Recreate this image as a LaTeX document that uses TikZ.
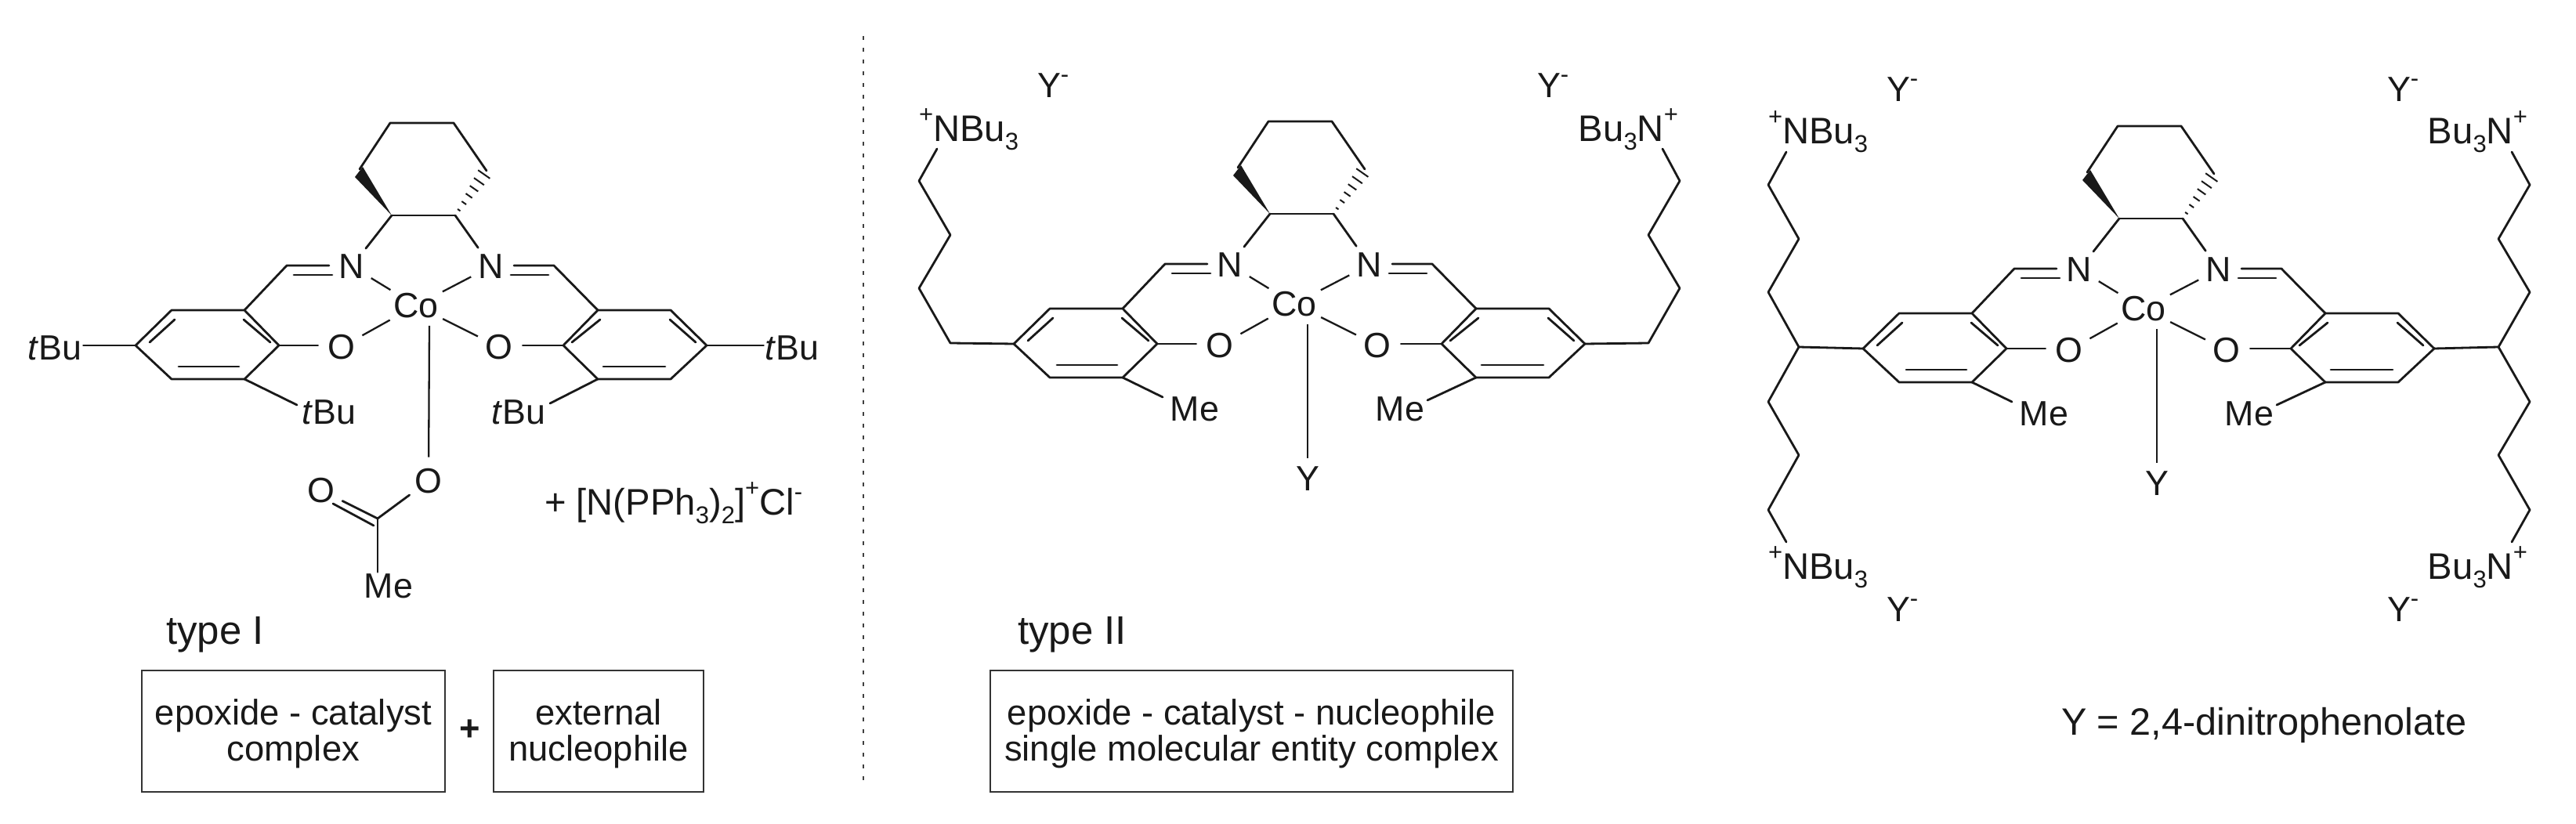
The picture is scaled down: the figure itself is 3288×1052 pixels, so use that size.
\documentclass[tikz,border=0pt]{standalone}
\usepackage{fontspec}
\setmainfont{Liberation Sans}
\usetikzlibrary{calc}
\newcommand\atomfont{\fontsize{22.4}{26}\selectfont}
\newcommand\chargefont{\fontsize{23.6}{26}\selectfont}
\newcommand\boxfont{\fontsize{22.7}{26}\selectfont}
\newcommand\typefont{\fontsize{25.5}{30}\selectfont}
\newcommand\supp[1]{\raisebox{12pt}{\fontsize{15.5}{15.5}\selectfont #1}}
\newcommand\supm{\raisebox{9.5pt}{\fontsize{15.5}{15.5}\selectfont -}}
\newcommand\subb[1]{\raisebox{-5.5pt}{\fontsize{15.5}{15.5}\selectfont #1}}
\tikzset{
  x=0.5pt,y=-0.5pt,
  bond/.style={line width=1.4pt,line cap=round,line join=round,draw=black!90},
  thinbond/.style={line width=1.15pt,draw=black!90},
  atom/.style={circle,inner sep=2.4pt,outer sep=0pt,font=\atomfont,text=black!90},
  metal/.style={circle,inner sep=2pt,outer sep=0pt,font=\atomfont,text=black!90},
  lab/.style={inner sep=0pt,outer sep=0pt,font=\chargefont,text=black!90,anchor=base west},
  labr/.style={inner sep=0pt,outer sep=0pt,font=\chargefont,text=black!90,anchor=base east},
  ylab/.style={inner sep=0pt,outer sep=0pt,font=\atomfont,text=black!90,anchor=base west},
  sub/.style={inner sep=1pt,outer sep=0pt,font=\atomfont,text=black!90},
  tbox/.style={draw=black!80,line width=1.2pt,rectangle,outer sep=0pt,inner sep=0pt,minimum height=77.5pt,align=center,font=\boxfont,text=black!90},
  typelab/.style={inner sep=0pt,outer sep=0pt,font=\typefont,text=black!90,anchor=base west},
}
% common salen-cobalt core; #1 prefix, (#2,#3) position of Co
\newcommand\salen[3]{%
\begin{scope}[shift={(#2,#3)}]
  \node[metal] (#1Co) at (0,0) {Co};
  \node[atom] (#1Na) at (-82,-50) {N};
  \node[atom] (#1Nb) at (96,-50) {N};
  \node[atom] (#1Oa) at (-95,53) {O};
  \node[atom] (#1Ob) at (106,53) {O};
  \coordinate (#1ax) at (17,26);
  \coordinate (#1ca) at (-33,-233);
  \coordinate (#1cb) at (48,-233);
  \coordinate (#1cc) at (90,-172);
  \coordinate (#1cd) at (50,-115);
  \coordinate (#1ce) at (-31,-115);
  \coordinate (#1cf) at (-72,-174);
  \coordinate (#1ia) at (-165,-51);
  \coordinate (#1ib) at (176,-51);
  \coordinate (#1r1) at (-219,6);
  \coordinate (#1r2) at (-312,6);
  \coordinate (#1r3) at (-358,51);
  \coordinate (#1r4) at (-312,94);
  \coordinate (#1r5) at (-219,94);
  \coordinate (#1r6) at (-175,51);
  \coordinate (#1s1) at (232,6);
  \coordinate (#1s2) at (325,6);
  \coordinate (#1s3) at (371,51);
  \coordinate (#1s4) at (325,94);
  \coordinate (#1s5) at (232,94);
  \coordinate (#1s6) at (188,51);
  % cyclohexane
  \draw[bond] (#1cf) -- (#1ca) -- (#1cb) -- (#1cc);
  \draw[bond] (#1ce) -- (#1cd);
  \fill[black!90] (#1ce) -- (-68,-177) -- (-78,-164) -- cycle;
  \foreach \t in {0.12,0.28,0.44,0.60,0.76,0.92}{
    \pgfmathsetmacro\w{1+\t*9}
    \pgfmathsetmacro\px{50+40*\t}
    \pgfmathsetmacro\py{-115-57*\t}
    \draw[line width=1pt,draw=black!90] (\px-.819*\w,\py-.574*\w) -- (\px+.819*\w,\py+.574*\w);
  }
  % bonds to N and Co
  \draw[bond] (#1ce) -- (#1Na);
  \draw[bond] (#1cd) -- (#1Nb);
  \draw[thinbond] (#1Na) -- (#1Co);
  \draw[thinbond] (#1Nb) -- (#1Co);
  \draw[thinbond] (#1Oa) -- (#1Co);
  \draw[thinbond] (#1Ob) -- (#1Co);
  % imines
  \draw[bond] (#1r1) -- (#1ia) -- (#1Na.west |- #1ia);
  \draw[bond] (-156,-39) -- (-107,-39);
  \draw[bond] (#1s1) -- (#1ib) -- (#1Nb.east |- #1ib);
  \draw[bond] (121,-39) -- (169,-39);
  % left ring
  \draw[bond] (#1r1) -- (#1r2) -- (#1r3) -- (#1r4) -- (#1r5) -- (#1r6) -- cycle;
  \draw[bond] (-340,47) -- (-308,18);
  \draw[bond] (-303,78) -- (-226,78);
  \draw[bond] (-220,18) -- (-186,47);
  \draw[bond] (#1r6) -- (#1Oa.west |- #1r6);
  % right ring
  \draw[bond] (#1s1) -- (#1s2) -- (#1s3) -- (#1s4) -- (#1s5) -- (#1s6) -- cycle;
  \draw[bond] (199,47) -- (235,18);
  \draw[bond] (239,78) -- (318,78);
  \draw[bond] (324,18) -- (357,47);
  \draw[bond] (#1s6) -- (#1Ob.east |- #1s6);
\end{scope}}
\begin{document}
\begin{tikzpicture}
\useasboundingbox (0,0) rectangle (3288,1052);
% ---- type I
\salen{l}{531}{390}
\node[sub] (ltbua) at (70,444) {\textit{t}Bu};
\draw[bond] (lr3) -- (ltbua.east |- lr3);
\node[sub] (ltbub) at (1011,444) {\textit{t}Bu};
\draw[bond] (ls3) -- (ltbub.west |- ls3);
\node[sub] (ltbuc) at (420,526) {\textit{t}Bu};
\coordinate (lec) at (379,517);
\draw[bond] (lr5) -- (lec);
\node[sub] (ltbud) at (662,526) {\textit{t}Bu};
\coordinate (led) at (702,515);
\draw[bond] (ls5) -- (led);
\node[atom] (lOx) at (547,614) {O};
\node[atom] (lOc) at (410,626) {O};
\coordinate (lC) at (482,662);
\node[sub] (lMe) at (496,748) {Me};
\draw[thinbond] (lax) -- (lOx);
\draw[bond] (lC) -- (lOx);
\draw[bond] (lC) -- (lOc);
\draw[bond] (425,643) -- (477,671);
\draw[bond] (lC) -- (lC |- lMe.north);
\node[lab] (lsalt) at (695,658) {+ [N(PPh\subb{3})\subb{2}]\supp{+}Cl\supm};
\node[typelab] (typeI) at (212,823) {type I};
\node[tbox,minimum width=193.5pt] (boxa) at (374.5,933.5) {\rule{0pt}{19.6pt}epoxide - catalyst\\[-3pt]complex};
\node[tbox,minimum width=134pt] (boxb) at (764,933.5) {\rule{0pt}{19.6pt}external\\[-3pt]nucleophile};
\node[inner sep=0pt,font=\boxfont\bfseries,text=black!90] (plus) at (600,932) {+};
\draw[line width=1.2pt,draw=black!75,dash pattern=on 2.5pt off 5pt] (1102,46) -- (1102,1003);
% ---- type II
\salen{m}{1652}{388}
\node[sub] (mMea) at (1525,522) {Me};
\coordinate (mea) at (1484,507);
\draw[bond] (mr5) -- (mea);
\node[sub] (mMeb) at (1787,522) {Me};
\coordinate (meb) at (1822,511);
\draw[bond] (ms5) -- (meb);
\node[sub] (mY) at (1669,611) {Y};
\draw[thinbond,shorten >=4.5pt] (max) -- (mY.north);
\node[lab] (mNa) at (1173,181) {\supp{+}NBu\subb{3}};
\node[labr] (mNb) at (2142,181) {Bu\subb{3}N\supp{+}};
\node[ylab] (mYa) at (1324,125) {Y\supm};
\node[ylab] (mYb) at (1962,125) {Y\supm};
\coordinate (ma1) at (1213,438);
\coordinate (ma2) at (1173,368);
\coordinate (ma3) at (1213,300);
\coordinate (ma4) at (1173,231);
\coordinate (ma5) at (1196,190);
\draw[bond] (mr3) -- (ma1) -- (ma2) -- (ma3) -- (ma4) -- (ma5);
\coordinate (mb1) at (2104,438);
\coordinate (mb2) at (2144,368);
\coordinate (mb3) at (2104,300);
\coordinate (mb4) at (2144,231);
\coordinate (mb5) at (2122,190);
\draw[bond] (ms3) -- (mb1) -- (mb2) -- (mb3) -- (mb4) -- (mb5);
\node[typelab] (typeII) at (1299,823) {type II};
\node[tbox,minimum width=333.5pt] (boxc) at (1597.5,933.5) {\rule{0pt}{19.6pt}epoxide - catalyst - nucleophile\\[-3pt]single molecular entity complex};
% ---- third complex
\salen{r}{2736}{394}
\node[sub] (rMea) at (2609,528) {Me};
\coordinate (rea) at (2568,513);
\draw[bond] (rr5) -- (rea);
\node[sub] (rMeb) at (2871,528) {Me};
\coordinate (reb) at (2906,517);
\draw[bond] (rs5) -- (reb);
\node[sub] (rY) at (2753,617) {Y};
\draw[thinbond,shorten >=4.5pt] (rax) -- (rY.north);
\node[lab] (rNa) at (2257,184) {\supp{+}NBu\subb{3}};
\node[labr] (rNb) at (3226,184) {Bu\subb{3}N\supp{+}};
\node[lab] (rNc) at (2257,740) {\supp{+}NBu\subb{3}};
\node[labr] (rNd) at (3226,740) {Bu\subb{3}N\supp{+}};
\node[ylab] (rYa) at (2408,130) {Y\supm};
\node[ylab] (rYb) at (3047,130) {Y\supm};
\node[ylab] (rYc) at (2408,794) {Y\supm};
\node[ylab] (rYd) at (3047,794) {Y\supm};
\coordinate (ra0) at (2296,443);
\coordinate (ra1) at (2257,373);
\coordinate (ra2) at (2296,305);
\coordinate (ra3) at (2257,236);
\coordinate (ra4) at (2280,194);
\coordinate (ra5) at (2257,513);
\coordinate (ra6) at (2296,581);
\coordinate (ra7) at (2257,651);
\coordinate (ra8) at (2280,692);
\draw[bond] (rr3) -- (ra0) -- (ra1) -- (ra2) -- (ra3) -- (ra4);
\draw[bond] (ra0) -- (ra5) -- (ra6) -- (ra7) -- (ra8);
\coordinate (rb0) at (3189,443);
\coordinate (rb1) at (3229,373);
\coordinate (rb2) at (3189,305);
\coordinate (rb3) at (3229,236);
\coordinate (rb4) at (3206,194);
\coordinate (rb5) at (3229,513);
\coordinate (rb6) at (3189,581);
\coordinate (rb7) at (3229,651);
\coordinate (rb8) at (3206,692);
\draw[bond] (rs3) -- (rb0) -- (rb1) -- (rb2) -- (rb3) -- (rb4);
\draw[bond] (rb0) -- (rb5) -- (rb6) -- (rb7) -- (rb8);
\node[inner sep=0pt,outer sep=0pt,font=\fontsize{24.3}{28}\selectfont,text=black!90,anchor=base west] (legend) at (2631,938) {Y = 2,4-dinitrophenolate};
\end{tikzpicture}
\end{document}
